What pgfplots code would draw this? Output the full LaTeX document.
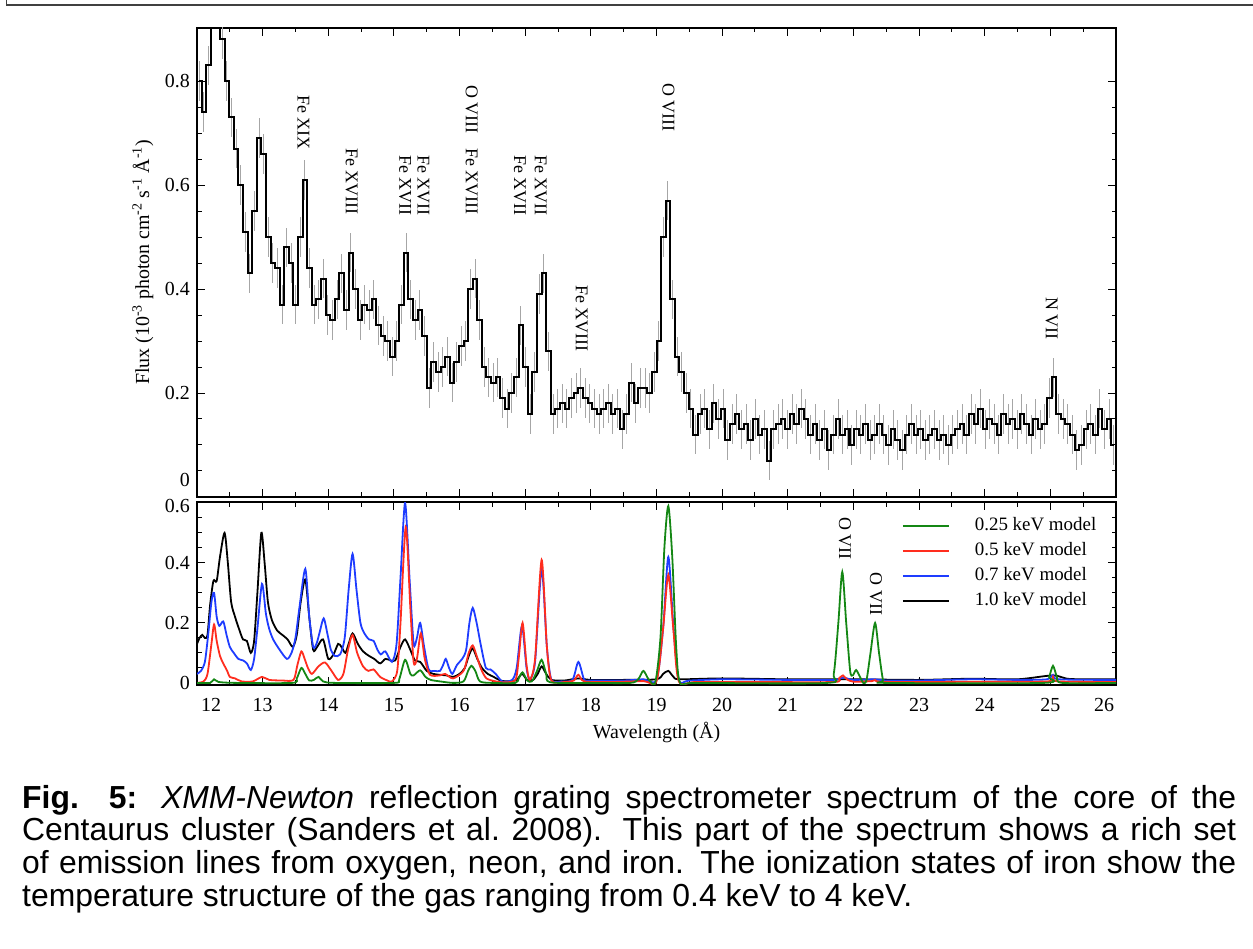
\documentclass[border=0pt]{standalone}
\usepackage{pgfplots}
\pgfplotsset{compat=1.18}
\usepackage{pgfplotstable}
\usepackage{fontspec}
\setmainfont{Liberation Serif}
\newfontfamily\capfont{Liberation Sans}
\definecolor{mgreen}{RGB}{20,135,20}
\definecolor{mred}{RGB}{255,45,30}
\definecolor{mblue}{RGB}{30,60,255}

\pgfplotstableread{
x y
12.035 0.80
12.105 0.74
12.175 0.83
12.245 0.96
12.315 0.98
12.385 0.88
12.455 0.80
12.525 0.73
12.595 0.67
12.665 0.60
12.735 0.51
12.805 0.43
12.875 0.55
12.945 0.69
13.015 0.66
13.085 0.50
13.155 0.45
13.225 0.44
13.295 0.37
13.365 0.48
13.435 0.45
13.505 0.37
13.575 0.50
13.645 0.61
13.715 0.44
13.785 0.37
13.855 0.38
13.925 0.42
13.995 0.35
14.065 0.34
14.135 0.38
14.205 0.43
14.275 0.36
14.345 0.47
14.415 0.40
14.485 0.34
14.555 0.37
14.625 0.36
14.695 0.38
14.765 0.33
14.835 0.31
14.905 0.30
14.975 0.27
15.045 0.30
15.115 0.37
15.185 0.47
15.255 0.38
15.325 0.34
15.395 0.36
15.465 0.31
15.535 0.21
15.605 0.26
15.675 0.24
15.745 0.25
15.815 0.27
15.885 0.22
15.955 0.26
16.025 0.29
16.095 0.30
16.165 0.40
16.235 0.42
16.305 0.34
16.375 0.25
16.445 0.23
16.515 0.22
16.585 0.23
16.655 0.19
16.725 0.17
16.795 0.20
16.865 0.23
16.935 0.33
17.005 0.25
17.075 0.16
17.145 0.24
17.215 0.39
17.285 0.43
17.355 0.28
17.425 0.16
17.495 0.17
17.565 0.18
17.635 0.17
17.705 0.19
17.775 0.20
17.845 0.21
17.915 0.19
17.985 0.18
18.055 0.17
18.125 0.16
18.195 0.17
18.265 0.18
18.335 0.16
18.405 0.17
18.475 0.13
18.545 0.16
18.615 0.22
18.685 0.18
18.755 0.21
18.825 0.21
18.895 0.20
18.965 0.24
19.035 0.30
19.105 0.50
19.175 0.57
19.245 0.38
19.315 0.27
19.385 0.24
19.455 0.20
19.525 0.17
19.595 0.12
19.665 0.16
19.735 0.17
19.805 0.13
19.875 0.18
19.945 0.15
20.015 0.17
20.085 0.11
20.155 0.14
20.225 0.16
20.295 0.13
20.365 0.14
20.435 0.11
20.505 0.15
20.575 0.12
20.645 0.13
20.715 0.07
20.785 0.13
20.855 0.14
20.925 0.15
20.995 0.13
21.065 0.16
21.135 0.14
21.205 0.17
21.275 0.15
21.345 0.12
21.415 0.14
21.485 0.11
21.555 0.13
21.625 0.09
21.695 0.12
21.765 0.15
21.835 0.12
21.905 0.13
21.975 0.10
22.045 0.13
22.115 0.12
22.185 0.14
22.255 0.11
22.325 0.12
22.395 0.14
22.465 0.12
22.535 0.10
22.605 0.13
22.675 0.11
22.745 0.09
22.815 0.12
22.885 0.14
22.955 0.12
23.025 0.13
23.095 0.11
23.165 0.12
23.235 0.13
23.305 0.11
23.375 0.12
23.445 0.10
23.515 0.12
23.585 0.13
23.655 0.14
23.725 0.12
23.795 0.16
23.865 0.14
23.935 0.17
24.005 0.13
24.075 0.15
24.145 0.14
24.215 0.12
24.285 0.16
24.355 0.14
24.425 0.15
24.495 0.13
24.565 0.16
24.635 0.14
24.705 0.12
24.775 0.15
24.845 0.13
24.915 0.14
24.985 0.19
25.055 0.23
25.125 0.16
25.195 0.15
25.265 0.14
25.335 0.12
25.405 0.09
25.475 0.10
25.545 0.13
25.615 0.14
25.685 0.12
25.755 0.17
25.825 0.13
25.895 0.15
25.965 0.10
}\spec

\pgfplotsset{
  mypanel/.style={
    scale only axis, width=919bp, xmin=12, xmax=26,
    anchor=south west, clip mode=individual,
    tick align=inside, xtick pos=both, ytick pos=both,
    major tick length=8bp, minor tick length=4.5bp,
    minor x tick num=1, minor y tick num=3,
    axis line style={line width=1.3bp},
    tick style={line width=1bp, black},
    xtick={12,13,...,26},
    ticklabel style={font=\fontsize{20}{24}\selectfont},
    yticklabel style={inner sep=0pt, xshift=-7bp},
    xticklabel style={inner sep=0pt, yshift=-13bp},
  }
}

\begin{document}
\begin{tikzpicture}[x=1bp,y=1bp]
\path[use as bounding box] (0bp,0bp) rectangle (1253bp,949bp);
\draw[line width=1.5bp, black!75] (6.5bp,949bp) -- (6.5bp,944bp) -- (1253bp,944bp);

% top panel
\begin{axis}[mypanel, at={(197bp,452bp)}, height=469bp,
  ymin=0, ymax=0.902,
  ytick={0,0.2,0.4,0.6,0.8},
  yticklabels={\raisebox{34bp}{0},0.2,0.4,0.6,0.8},
  xticklabels={},
  every axis y label/.style={at={(axis description cs:-0.0588,0.5)}, rotate=90, anchor=center, font=\fontsize{20}{24}\selectfont},
  ylabel={Flux (10\textsuperscript{-3} photon cm\textsuperscript{-2} s\textsuperscript{-1} Å\textsuperscript{-1})},
]
\addplot[draw=none, forget plot, error bars/.cd, y dir=both, y fixed=0.038, error mark=none,
  error bar style={draw=black!35, solid, line width=1bp}] table {\spec};
\addplot[const plot mark mid, black, line width=2bp] table {\spec};
\begin{scope}[every node/.style={rotate=-90, anchor=west, inner sep=0pt, font=\fontsize{18}{20}\selectfont}]
\node at (axis cs:13.62,0.773) {Fe XIX};
\node at (axis cs:14.357,0.671) {Fe XVIII};
\node at (axis cs:15.169,0.658) {Fe XVII};
\node at (axis cs:15.448,0.658) {Fe XVII};
\node at (axis cs:16.185,0.792) {O VIII\hspace{10bp} Fe XVIII};
\node at (axis cs:16.92,0.658) {Fe XVII};
\node at (axis cs:17.236,0.658) {Fe XVII};
\node at (axis cs:17.86,0.408) {Fe XVIII};
\node at (axis cs:19.18,0.796) {O VIII};
\node at (axis cs:25.02,0.385) {N VII};
\end{scope}
\end{axis}

% bottom panel
\begin{axis}[mypanel, at={(197bp,264bp)}, height=183bp,
  ymin=-0.007, ymax=0.603,
  ytick={0,0.2,0.4,0.6},
  yticklabels={0,0.2,0.4,\raisebox{-20bp}{0.6}},
  xticklabels={\hspace*{28bp}12,13,14,15,16,17,18,19,20,21,22,23,24,25,26\hspace*{24bp}},
  every axis x label/.style={at={(axis description cs:0.5,-0.2568)}, anchor=center, font=\fontsize{20}{24}\selectfont},
  xlabel={Wavelength (Å)},
  legend cell align=left,
  legend image code/.code={\draw[#1] (0bp,0bp) -- (46bp,0bp);},
  legend style={draw=none, fill=none, at={(rel axis cs:0.767,0.915)}, anchor=north west,
    inner sep=0pt, font=\fontsize{19}{22}\selectfont,
    nodes={inner sep=0pt, text height=13bp, text depth=4bp},
    row sep=8bp,
    /tikz/every odd column/.append style={column sep=25bp}},
]
\addplot[black, line width=1.8bp, smooth, tension=0.45, forget plot] coordinates {
(12.0,0.13) (12.04,0.15) (12.08,0.16) (12.12,0.15) (12.16,0.16) (12.2,0.26) (12.25,0.34) (12.3,0.34) (12.35,0.42) (12.42,0.50) (12.47,0.40) (12.52,0.27) (12.58,0.22) (12.64,0.18) (12.7,0.145) (12.76,0.14) (12.82,0.10) (12.87,0.14) (12.92,0.3) (12.98,0.50) (13.03,0.40) (13.08,0.27) (13.14,0.21) (13.22,0.175) (13.3,0.16) (13.38,0.145) (13.46,0.12) (13.52,0.16) (13.58,0.27) (13.65,0.345) (13.71,0.22) (13.77,0.11) (13.83,0.12) (13.92,0.145) (14.0,0.08) (14.08,0.095) (14.15,0.13) (14.2,0.12) (14.26,0.10) (14.31,0.13) (14.37,0.165) (14.45,0.13) (14.53,0.105) (14.62,0.09) (14.7,0.08) (14.79,0.065) (14.87,0.08) (14.95,0.075) (15.02,0.075) (15.1,0.12) (15.17,0.145) (15.25,0.11) (15.32,0.075) (15.4,0.07) (15.5,0.04) (15.6,0.03) (15.7,0.027) (15.8,0.025) (15.9,0.02) (16.0,0.03) (16.08,0.05) (16.14,0.09) (16.2,0.115) (16.27,0.08) (16.34,0.05) (16.43,0.03) (16.52,0.02) (16.62,0.008) (16.75,0.005) (16.87,0.01) (16.95,0.03) (17.03,0.01) (17.12,0.01) (17.19,0.03) (17.25,0.055) (17.32,0.03) (17.4,0.01) (17.6,0.008) (17.81,0.015) (18.0,0.01) (18.5,0.01) (19.0,0.012) (19.1,0.03) (19.18,0.04) (19.26,0.02) (19.35,0.012) (20.0,0.015) (21.0,0.012) (22.0,0.012) (23.0,0.01) (23.8,0.014) (24.5,0.012) (25.04,0.025) (25.3,0.013) (26.0,0.012)};
\addplot[mblue, line width=1.8bp, smooth, tension=0.45, forget plot] coordinates {
(12.0,0.03) (12.06,0.04) (12.12,0.07) (12.17,0.16) (12.22,0.27) (12.26,0.30) (12.3,0.22) (12.34,0.19) (12.4,0.205) (12.45,0.16) (12.5,0.12) (12.56,0.10) (12.63,0.08) (12.7,0.075) (12.76,0.065) (12.82,0.043) (12.87,0.08) (12.92,0.18) (12.99,0.33) (13.05,0.23) (13.1,0.18) (13.16,0.145) (13.26,0.11) (13.37,0.08) (13.44,0.10) (13.5,0.15) (13.56,0.25) (13.65,0.38) (13.71,0.22) (13.77,0.12) (13.82,0.13) (13.87,0.17) (13.93,0.215) (13.99,0.16) (14.04,0.11) (14.1,0.09) (14.18,0.095) (14.25,0.15) (14.31,0.31) (14.37,0.43) (14.43,0.31) (14.49,0.2) (14.55,0.165) (14.62,0.145) (14.69,0.14) (14.75,0.11) (14.8,0.095) (14.87,0.105) (14.97,0.07) (15.04,0.13) (15.1,0.35) (15.17,0.60) (15.24,0.34) (15.3,0.13) (15.35,0.15) (15.4,0.2) (15.46,0.12) (15.53,0.045) (15.62,0.04) (15.7,0.04) (15.75,0.06) (15.79,0.08) (15.84,0.05) (15.89,0.03) (15.96,0.06) (16.04,0.08) (16.1,0.11) (16.15,0.2) (16.2,0.25) (16.26,0.2) (16.32,0.13) (16.4,0.05) (16.47,0.045) (16.55,0.03) (16.65,0.005) (16.8,0.01) (16.87,0.05) (16.95,0.19) (17.02,0.05) (17.07,0.012) (17.15,0.07) (17.25,0.38) (17.33,0.12) (17.4,0.01) (17.55,0.005) (17.72,0.01) (17.81,0.07) (17.9,0.01) (18.0,0.008) (18.5,0.008) (18.8,0.012) (19.0,0.01) (19.1,0.18) (19.18,0.42) (19.26,0.18) (19.34,0.01) (19.5,0.008) (20.0,0.012) (21.0,0.01) (21.7,0.01) (21.84,0.018) (22.0,0.01) (22.33,0.012) (22.5,0.008) (23.0,0.008) (23.8,0.012) (24.5,0.01) (24.95,0.012) (25.04,0.027) (25.13,0.012) (26.0,0.01)};
\addplot[mred, line width=1.8bp, smooth, tension=0.45, forget plot] coordinates {
(12.0,0.0) (12.1,0.005) (12.16,0.03) (12.22,0.13) (12.26,0.195) (12.3,0.14) (12.35,0.09) (12.4,0.065) (12.46,0.04) (12.5,0.02) (12.58,0.015) (12.68,0.005) (12.85,0.005) (12.99,0.02) (13.1,0.01) (13.3,0.008) (13.47,0.01) (13.53,0.06) (13.59,0.105) (13.64,0.08) (13.69,0.05) (13.75,0.03) (13.85,0.055) (13.95,0.068) (14.05,0.04) (14.15,0.01) (14.23,0.03) (14.3,0.11) (14.37,0.16) (14.44,0.10) (14.53,0.055) (14.61,0.04) (14.69,0.045) (14.79,0.02) (14.9,0.008) (14.97,0.005) (15.05,0.04) (15.1,0.2) (15.18,0.52) (15.25,0.25) (15.3,0.07) (15.35,0.08) (15.41,0.165) (15.47,0.08) (15.55,0.027) (15.7,0.025) (15.78,0.03) (15.9,0.015) (16.06,0.04) (16.14,0.1) (16.2,0.125) (16.26,0.09) (16.33,0.045) (16.41,0.015) (16.55,0.005) (16.67,0.002) (16.85,0.01) (16.9,0.08) (16.96,0.2) (17.02,0.06) (17.07,0.01) (17.15,0.08) (17.25,0.41) (17.33,0.12) (17.4,0.008) (17.6,0.003) (17.74,0.008) (17.81,0.027) (17.9,0.005) (18.3,0.003) (18.8,0.006) (19.0,0.005) (19.1,0.18) (19.18,0.36) (19.26,0.17) (19.34,0.005) (19.6,0.003) (20.5,0.003) (21.7,0.003) (21.78,0.015) (21.84,0.025) (21.9,0.012) (22.0,0.004) (22.28,0.006) (22.33,0.01) (22.4,0.004) (23.0,0.003) (24.0,0.004) (24.96,0.005) (25.04,0.02) (25.12,0.005) (26.0,0.003)};
\addplot[mgreen, line width=1.8bp, smooth, tension=0.45, forget plot] coordinates {
(12.0,0.0) (12.2,0.0) (12.26,0.012) (12.33,0.003) (12.6,0.0) (13.45,0.0) (13.52,0.015) (13.59,0.05) (13.65,0.03) (13.71,0.008) (13.78,0.01) (13.85,0.02) (13.92,0.005) (14.1,0.0) (15.0,0.0) (15.08,0.012) (15.17,0.077) (15.25,0.03) (15.3,0.025) (15.4,0.042) (15.48,0.02) (15.56,0.01) (15.7,0.005) (15.9,0.0) (16.06,0.005) (16.13,0.04) (16.18,0.057) (16.24,0.04) (16.31,0.005) (16.5,0.0) (16.85,0.0) (16.9,0.015) (16.96,0.035) (17.03,0.008) (17.1,0.005) (17.18,0.04) (17.25,0.077) (17.32,0.03) (17.38,0.002) (18.0,0.0) (18.6,0.0) (18.72,0.012) (18.8,0.04) (18.88,0.012) (18.98,0.0) (19.06,0.15) (19.12,0.45) (19.18,0.59) (19.24,0.42) (19.3,0.12) (19.36,0.0) (19.6,0.0) (21.6,0.0) (21.7,0.03) (21.77,0.2) (21.83,0.37) (21.89,0.2) (21.95,0.04) (21.99,0.025) (22.04,0.043) (22.1,0.02) (22.15,0.0) (22.2,0.01) (22.26,0.1) (22.33,0.2) (22.39,0.1) (22.45,0.01) (22.5,0.0) (24.9,0.0) (24.98,0.02) (25.04,0.057) (25.1,0.02) (25.18,0.0) (26.0,0.0)};
\addlegendimage{mgreen, line width=1.8bp}\addlegendentry{0.25 keV model}
\addlegendimage{mred, line width=1.8bp}\addlegendentry{0.5 keV model}
\addlegendimage{mblue, line width=1.8bp}\addlegendentry{0.7 keV model}
\addlegendimage{black, line width=1.8bp}\addlegendentry{1.0 keV model}
\begin{scope}[every node/.style={rotate=-90, anchor=west, inner sep=0pt, font=\fontsize{18}{20}\selectfont}]
\node at (axis cs:21.872,0.553) {O VII};
\node at (axis cs:22.344,0.367) {O VII};
\end{scope}
\end{axis}

\node[anchor=north west, inner sep=0pt] at (22bp,164bp) {\parbox[t]{1214bp}{\capfont\fontsize{32}{32.8}\selectfont
\textbf{Fig. 5:} \textit{XMM-Newton} reflection grating spectrometer spectrum of the core of the\linebreak
Centaurus cluster (Sanders et al.\ 2008).  This part of the spectrum shows a rich set\linebreak
of emission lines from oxygen, neon, and iron.  The ionization states of iron show the\linebreak
temperature structure of the gas ranging from 0.4 keV to 4 keV.}};
\end{tikzpicture}
\end{document}
